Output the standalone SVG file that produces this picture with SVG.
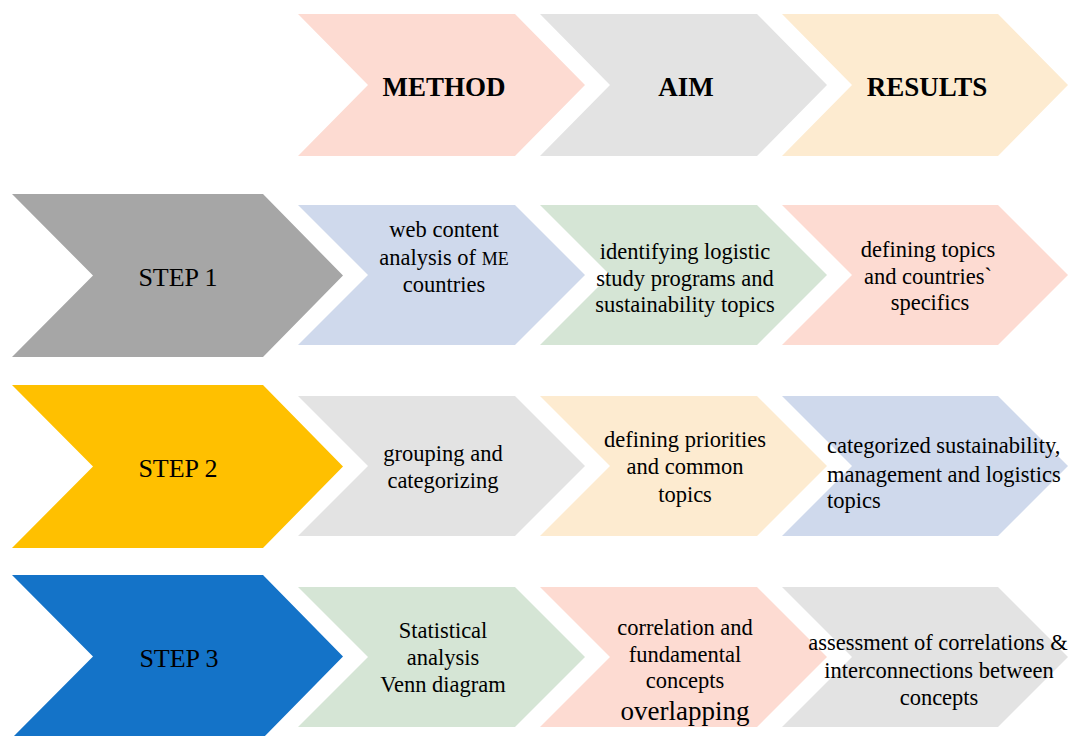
<svg xmlns="http://www.w3.org/2000/svg" width="1071" height="736" viewBox="0 0 1071 736">
<style>
text{font-family:"Liberation Serif","Times New Roman",serif;fill:#000;}
.h{font-size:27px;font-weight:bold;text-anchor:middle;}
.s{font-size:26px;text-anchor:middle;}
.t{font-size:22.5px;text-anchor:middle;}
.l{font-size:22.5px;text-anchor:start;}
.peach{fill:#fddbd2;}
.gray{fill:#e3e3e3;}
.cream{fill:#fdebd0;}
.lav{fill:#cfd9ec;}
.green{fill:#d5e5d5;}
</style>
<rect width="1071" height="736" fill="#fff"/>
<g id="header-method"><path class="peach" d="M298,14 H515 L585,85 L515,156 H298 L368,85 Z"/><text class="h" x="444" y="96">METHOD</text></g>
<g id="header-aim"><path class="gray" d="M540,14 H757 L827,85 L757,156 H540 L610,85 Z"/><text class="h" x="686" y="96">AIM</text></g>
<g id="header-results"><path class="cream" d="M782,14 H998 L1068,85 L998,156 H782 L852,85 Z"/><text class="h" x="927" y="96">RESULTS</text></g>

<g id="step1"><path fill="#a6a6a6" d="M12,194 H263 L343,275.5 L263,357 H12 L93,275.5 Z"/><text class="s" x="178" y="286">STEP 1</text></g>
<g id="step2"><path fill="#ffc000" d="M12,385 H263 L343,466.5 L263,548 H12 L93,466.5 Z"/><text class="s" x="178" y="477">STEP 2</text></g>
<g id="step3"><path fill="#1473c8" d="M12,575 H263 L343,656.5 L263,738 H12 L93,656.5 Z"/><text class="s" x="179" y="667">STEP 3</text></g>

<g id="r1c1"><path class="lav" d="M298,205 H515 L585,275 L515,345 H298 L368,275 Z"/>
<text class="t" x="444" y="237">web content</text>
<text class="t" x="444" y="265">analysis of <tspan style="font-size:18px">ME</tspan></text>
<text class="t" x="444" y="292">countries</text></g>
<g id="r1c2"><path class="green" d="M540,205 H757 L827,275 L757,345 H540 L610,275 Z"/>
<text class="t" x="685" y="259">identifying logistic</text>
<text class="t" x="685" y="286">study programs and</text>
<text class="t" x="685" y="312">sustainability topics</text></g>
<g id="r1c3"><path class="peach" d="M782,205 H998 L1068,275 L998,345 H782 L852,275 Z"/>
<text class="t" x="928" y="257">defining topics</text>
<text class="t" x="928" y="284">and countries`</text>
<text class="t" x="930" y="310">specifics</text></g>

<g id="r2c1"><path class="gray" d="M298,396 H515 L585,466 L515,536 H298 L368,466 Z"/>
<text class="t" x="443" y="461">grouping and</text>
<text class="t" x="443" y="488">categorizing</text></g>
<g id="r2c2"><path class="cream" d="M540,396 H757 L827,466 L757,536 H540 L610,466 Z"/>
<text class="t" x="685" y="447">defining priorities</text>
<text class="t" x="685" y="474">and common</text>
<text class="t" x="685" y="502">topics</text></g>
<g id="r2c3"><path class="lav" d="M782,396 H998 L1068,466 L998,536 H782 L852,466 Z"/>
<text class="l" x="827" y="453">categorized sustainability,</text>
<text class="l" x="827" y="482">management and logistics</text>
<text class="l" x="827" y="508">topics</text></g>

<g id="r3c1"><path class="green" d="M298,587 H515 L585,657 L515,727 H298 L368,657 Z"/>
<text class="t" x="443" y="638">Statistical</text>
<text class="t" x="443" y="665">analysis</text>
<text class="t" x="443" y="692">Venn diagram</text></g>
<g id="r3c2"><path class="peach" d="M540,587 H757 L827,657 L757,727 H540 L610,657 Z"/>
<text class="t" x="685" y="635">correlation and</text>
<text class="t" x="685" y="662">fundamental</text>
<text class="t" x="685" y="688">concepts</text>
<text class="t" x="685" y="720" style="font-size:27px">overlapping</text></g>
<g id="r3c3"><path class="gray" d="M782,587 H998 L1068,657 L998,727 H782 L852,657 Z"/>
<text class="t" x="938" y="650">assessment of correlations &amp;</text>
<text class="t" x="939" y="678">interconnections between</text>
<text class="t" x="939" y="705">concepts</text></g>
<g id="connectors"/>
</svg>
